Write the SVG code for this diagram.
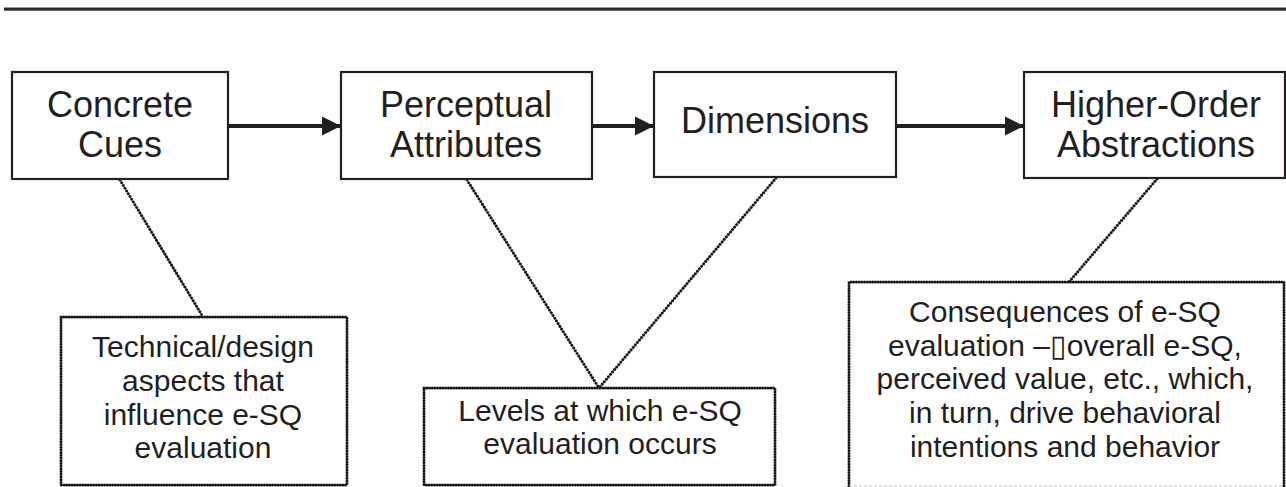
<svg xmlns="http://www.w3.org/2000/svg" width="1286" height="487" viewBox="0 0 1286 487">
<style>
.box{fill:#fff;stroke:#231f20;stroke-width:2.2}
.note{fill:#fff;stroke:#1a1718;stroke-width:3;stroke-linecap:round;stroke-dasharray:0.01 2.7}
.t{font-family:"Liberation Sans",Arial,sans-serif;fill:#231f20;text-anchor:middle}
.big{font-size:36px}
.small{font-size:30px}
.arrow{stroke:#231f20;stroke-width:4;fill:none}
.dot{stroke:#1a1718;stroke-width:3;stroke-linecap:round;stroke-dasharray:0.01 3.2;fill:none}
</style>
<defs>
<marker id="ah" viewBox="0 0 10 10" refX="10" refY="5" markerUnits="userSpaceOnUse" markerWidth="19" markerHeight="20" orient="auto">
<path d="M0,0 L10,5 L0,10 z" fill="#231f20"/>
</marker>
</defs>
<rect x="4" y="7" width="1282" height="4" fill="#9a9a9a"/>
<rect x="4" y="8" width="1282" height="2.4" fill="#2a2a2a"/>
<g id="connectors">
<line class="arrow" x1="229" y1="126" x2="341" y2="126" marker-end="url(#ah)"/>
<line class="arrow" x1="593" y1="126" x2="654" y2="126" marker-end="url(#ah)"/>
<line class="arrow" x1="897" y1="126" x2="1024" y2="126" marker-end="url(#ah)"/>
<line class="dot" x1="120" y1="180" x2="203" y2="317"/>
<line class="dot" x1="467" y1="180" x2="599" y2="388"/>
<line class="dot" x1="776" y1="178" x2="599" y2="388"/>
<line class="dot" x1="1157" y1="179" x2="1069" y2="282"/>
</g>
<g id="concrete-cues">
<rect class="box" x="12" y="72" width="216" height="107"/>
<text class="t big" x="120" y="117">Concrete</text>
<text class="t big" x="120" y="157">Cues</text>
</g>
<g id="perceptual-attributes">
<rect class="box" x="341" y="72" width="251" height="107"/>
<text class="t big" x="466" y="117">Perceptual</text>
<text class="t big" x="466" y="157">Attributes</text>
</g>
<g id="dimensions">
<rect class="box" x="654" y="72" width="242" height="105"/>
<text class="t big" x="775" y="133">Dimensions</text>
</g>
<g id="higher-order-abstractions">
<rect class="box" x="1024" y="72" width="261" height="106"/>
<text class="t big" x="1156" y="117">Higher-Order</text>
<text class="t big" x="1156" y="157">Abstractions</text>
</g>
<g id="technical-note">
<rect class="note" x="61" y="317" width="286" height="168"/>
<text class="t small" x="203" y="357">Technical/design</text>
<text class="t small" x="203" y="391">aspects that</text>
<text class="t small" x="203" y="425">influence e-SQ</text>
<text class="t small" x="203" y="458">evaluation</text>
</g>
<g id="levels-note">
<rect class="note" x="424" y="388" width="351" height="97"/>
<text class="t small" x="600" y="421">Levels at which e-SQ</text>
<text class="t small" x="600" y="454">evaluation occurs</text>
</g>
<g id="consequences-note">
<path class="note" d="M849,486 L849,282 L1284,282 L1284,486" fill="#fff"/>
<line x1="849" y1="486" x2="1284" y2="486" stroke="#bbb" stroke-width="1" stroke-dasharray="3 2"/>
<text class="t small" x="1065" y="322">Consequences of e-SQ</text>
<text class="t small" x="1065" y="356">evaluation –▯overall e-SQ,</text>
<text class="t small" x="1065" y="389">perceived value, etc., which,</text>
<text class="t small" x="1065" y="423">in turn, drive behavioral</text>
<text class="t small" x="1065" y="457">intentions and behavior</text>
</g>
</svg>
